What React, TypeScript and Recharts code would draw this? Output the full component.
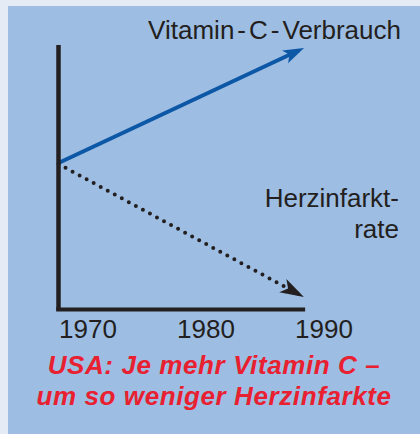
import { LineChart, Line, XAxis, YAxis, ReferenceLine } from "recharts";

const years = [1967.5, 1987.85];
const vitaminC = [55.4, 97.9];
const herzinfarkt = [55, 5.8];
const tickYears = [1970, 1980, 1990];

const data = years.map((year, i) => ({
  year,
  vitamin: vitaminC[i],
  herz: herzinfarkt[i],
}));

const ink = "#231f20";
const blue = "#0c58a6";
const font = "'Liberation Sans', Arial, sans-serif";

export default function App() {
  return (
    <div
      style={{
        position: "fixed",
        left: 0,
        top: 0,
        width: 420,
        height: 434,
        background: "#e4ebf5",
        fontFamily: font,
        color: ink,
      }}
    >
      <div
        style={{
          position: "absolute",
          left: 8,
          top: 6,
          width: 412,
          height: 428,
          background: "#9dbde2",
        }}
      />
      <div style={{ position: "absolute", left: 0, top: 0 }}>
        <LineChart
          width={420}
          height={345}
          data={data}
          margin={{ top: 45, right: 90.1, bottom: 5.5, left: 0 }}
        >
          <defs>
            <marker
              id="arrowBlue"
              markerUnits="userSpaceOnUse"
              markerWidth={24}
              markerHeight={16}
              refX={15}
              refY={7}
              orient="auto"
            >
              <path d="M0,0 L21,7 L0,14 L5,7 Z" fill={blue} />
            </marker>
            <marker
              id="arrowBlack"
              markerUnits="userSpaceOnUse"
              markerWidth={26}
              markerHeight={18}
              refX={18}
              refY={7.5}
              orient="auto"
            >
              <path d="M0,0 L24,7.5 L0,15 L6,7.5 Z" fill={ink} />
            </marker>
          </defs>
          <XAxis
            type="number"
            dataKey="year"
            domain={[1967.5, 1990.5]}
            ticks={tickYears}
            interval={0}
            axisLine={false}
            tickLine={false}
            tickMargin={4.5}
            height={30}
            tick={{ fill: ink, fontSize: 26, fontFamily: font }}
          />
          <YAxis
            type="number"
            domain={[0, 100]}
            width={58.5}
            tick={false}
            tickLine={false}
            axisLine={{ stroke: ink, strokeWidth: 4.5 }}
          />
          <ReferenceLine
            segment={[
              { x: 1967.3, y: 0 },
              { x: 1988.4, y: 0 },
            ]}
            ifOverflow="visible"
            stroke={ink}
            strokeWidth={4}
          />
          <Line
            type="linear"
            dataKey="vitamin"
            stroke={blue}
            strokeWidth={4}
            dot={false}
            isAnimationActive={false}
            markerEnd="url(#arrowBlue)"
          />
          <Line
            type="linear"
            dataKey="herz"
            stroke={ink}
            strokeWidth={4}
            strokeDasharray="0 8"
            strokeLinecap="round"
            dot={false}
            isAnimationActive={false}
            markerEnd="url(#arrowBlack)"
          />
        </LineChart>
      </div>
      <div
        style={{
          position: "absolute",
          right: 19,
          top: 15,
          fontSize: 26,
          lineHeight: "30px",
          whiteSpace: "nowrap",
        }}
      >
        Vitamin<span style={{ margin: "0 3px" }}>-</span>C
        <span style={{ margin: "0 3px" }}>-</span>Verbrauch
      </div>
      <div
        style={{
          position: "absolute",
          right: 21,
          top: 182.5,
          fontSize: 26,
          lineHeight: "31px",
          textAlign: "right",
          whiteSpace: "nowrap",
        }}
      >
        Herzinfarkt-
        <br />
        rate
      </div>
      <div
        style={{
          position: "absolute",
          left: 8,
          width: 412,
          top: 350.2,
          fontSize: 26,
          lineHeight: "30.5px",
          fontWeight: "bold",
          fontStyle: "italic",
          letterSpacing: 0.6,
          textAlign: "center",
          color: "#e82030",
        }}
      >
        USA: Je mehr Vitamin C –
        <br />
        um so weniger Herzinfarkte
      </div>
    </div>
  );
}
